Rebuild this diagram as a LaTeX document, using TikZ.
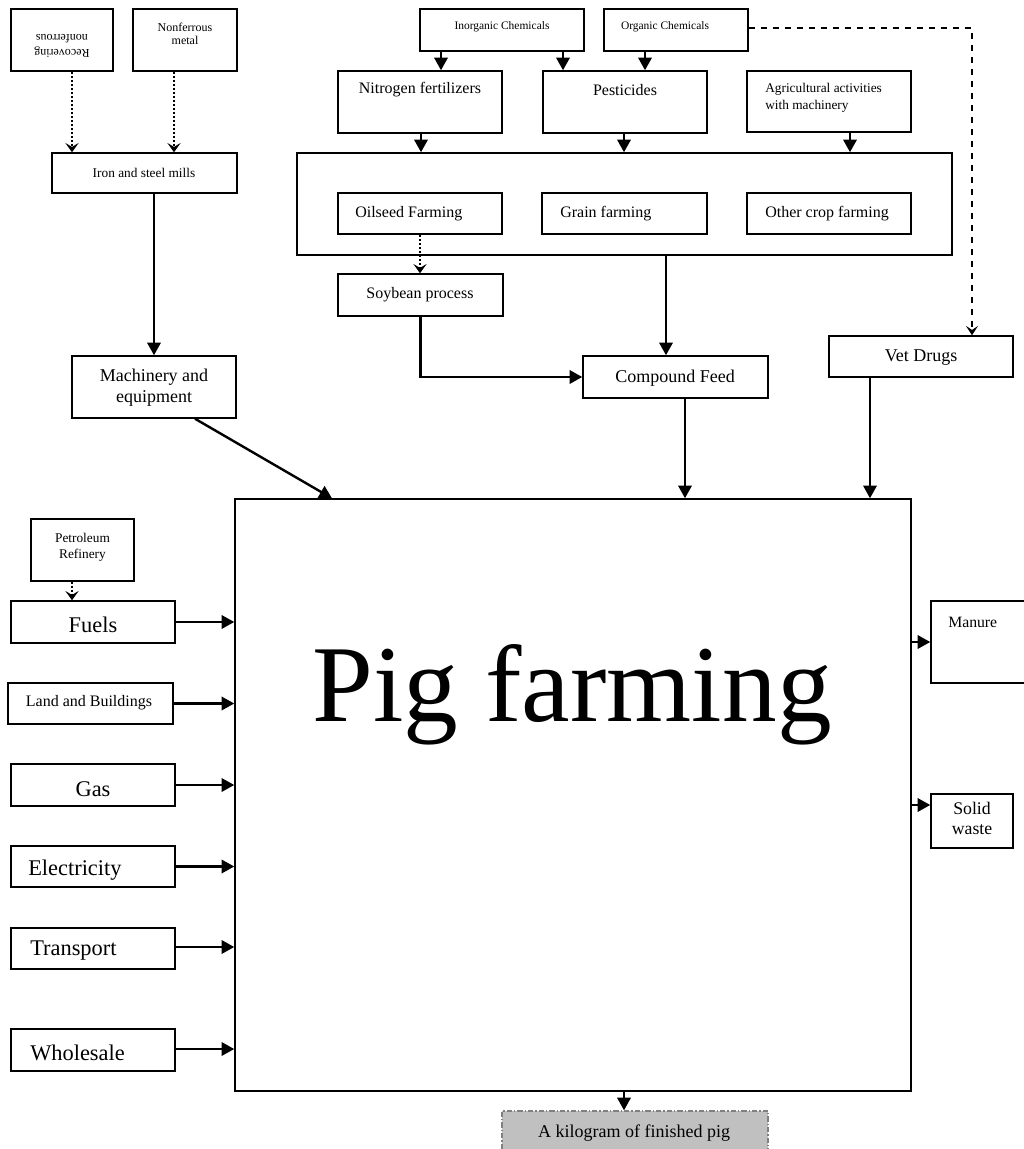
\documentclass[tikz,border=0pt]{standalone}
\usepackage{fontspec}
\setmainfont{Liberation Serif}
\usetikzlibrary{arrows.meta,fit}
\definecolor{outfill}{RGB}{192,192,192}
\definecolor{outline}{RGB}{128,128,128}
\newcommand\fs[2]{\fontsize{#1}{#2}\selectfont}
\begin{document}
\begin{tikzpicture}[x=0.75pt,y=-0.75pt,
  box/.style={draw, line width=1.1pt, inner sep=0pt, fit={#1}},
  txt/.style={inner sep=0pt, align=center},
  ltxt/.style={inner sep=0pt, anchor=west, align=left},
  flow/.style={line width=1.8pt, -{Triangle[length=9.5pt,width=10pt]}},
  dotflow/.style={line width=1.4pt, dash pattern=on 1.4pt off 1.6pt,
    -{Stealth[length=7pt,width=10pt,inset=3pt]}},
  dashflow/.style={line width=1.5pt, dash pattern=on 5pt off 4pt,
    -{Stealth[length=7pt,width=9pt,inset=3pt]}}]
\useasboundingbox (0,0) rectangle (1024,1149);
\clip (0,0) rectangle (1024,1149);

% metal supply chain
\node[box={(11,9)(113,71)}] (recov) {};
\node[txt, rotate=180, font=\fs{9}{11}] (recovt) at (62,46) {Recovering\\nonferrous};
\node[box={(133,9)(237,71)}] (nonfer) {};
\node[txt, font=\fs{9}{10}] (nonfert) at (185,34) {Nonferrous\\metal};
\node[box={(52,153)(237,193)}] (iron) {};
\node[txt, font=\fs{10}{12}] (iront) at (144,173) {Iron and steel mills};
\node[box={(72,356)(236,418)}] (mach) {};
\node[txt, font=\fs{13.5}{15.8}] (macht) at (154,388) {Machinery and\\equipment};

% chemicals and agricultural inputs
\node[box={(420,9)(584,51)}] (inorg) {};
\node[txt, font=\fs{8.6}{10}] (inorgt) at (502,27) {Inorganic Chemicals};
\node[box={(604,9)(748,51)}] (org) {};
\node[txt, font=\fs{8.6}{10}] (orgt) at (665,27) {Organic Chemicals};
\node[box={(338,71)(502,133)}] (nitro) {};
\node[txt, font=\fs{12}{14}] (nitrot) at (420,90) {Nitrogen fertilizers};
\node[box={(543,71)(707,133)}] (pest) {};
\node[txt, font=\fs{12}{14}] (pestt) at (625,90) {Pesticides};
\node[box={(747,71)(911,132)}] (agri) {};
\node[ltxt, font=\fs{10}{12.5}] (agrit) at (765,98) {Agricultural activities\\with machinery};

% crop farming group
\node[box={(297,153)(952,255)}] (crops) {};
\node[box={(338,193)(502,234)}] (oil) {};
\node[ltxt, font=\fs{12}{14}] (oilt) at (355,214) {Oilseed Farming};
\node[box={(542,193)(707,234)}] (grain) {};
\node[ltxt, font=\fs{12}{14}] (graint) at (560,214) {Grain farming};
\node[box={(747,193)(911,234)}] (other) {};
\node[ltxt, font=\fs{12}{14}] (othert) at (765,214) {Other crop farming};

\node[box={(338,274)(503,316)}] (soy) {};
\node[txt, font=\fs{12}{14}] (soyt) at (420,295) {Soybean process};
\node[box={(583,356)(768,398)}] (feed) {};
\node[txt, font=\fs{13.5}{16}] (feedt) at (675,378) {Compound Feed};
\node[box={(829,336)(1013,377)}] (vet) {};
\node[txt, font=\fs{13.5}{16}] (vett) at (921,358) {Vet Drugs};

% central process
\node[box={(235,499)(911,1091)}] (pig) {};
\node[txt, font=\fs{82}{90}] (pigt) at (572,695) {Pig farming};

% energy and services
\node[box={(31,519)(134,581)}] (petro) {};
\node[txt, font=\fs{10}{12}] (petrot) at (82.5,547) {Petroleum\\Refinery};
\node[box={(11,601)(175,643)}] (fuels) {};
\node[txt, font=\fs{16.8}{19}] (fuelst) at (93,625) {Fuels};
\node[box={(8,683)(173,724)}] (land) {};
\node[txt, font=\fs{12}{14}] (landt) at (89,703) {Land and Buildings};
\node[box={(11,764)(175,806)}] (gas) {};
\node[txt, font=\fs{16.8}{19}] (gast) at (93,789) {Gas};
\node[box={(11,846)(175,887)}] (elec) {};
\node[ltxt, font=\fs{16.8}{19}] (elect) at (28,870) {Electricity};
\node[box={(11,928)(175,969)}] (trans) {};
\node[ltxt, font=\fs{16.8}{19}] (transt) at (30,951) {Transport};
\node[box={(11,1029)(175,1071)}] (whole) {};
\node[ltxt, font=\fs{16.8}{19}] (wholet) at (30,1053) {Wholesale};

% outputs
\node[box={(931,601)(1040,683)}] (manure) {};
\node[ltxt, font=\fs{11.8}{14}] (manuret) at (948,622) {Manure};
\node[box={(931,794)(1013,848)}] (solid) {};
\node[txt, font=\fs{13.3}{15}] (solidt) at (972,818) {Solid\\waste};
\node[draw=outline, fill=outfill, line width=1pt, dash pattern=on 4pt off 1.5pt on 1pt off 1.5pt,
      inner sep=0pt, fit={(502,1111)(768,1165)}] (kg) {};
\node[txt, font=\fs{13.5}{16}] (kgt) at (634,1133) {A kilogram of finished pig};

% connectors: metals
\draw[dotflow] (72,0 |- recov.south) -- (72,0 |- iron.north);
\draw[dotflow] (174,0 |- nonfer.south) -- (174,0 |- iron.north);
\draw[flow] (154,0 |- iron.south) -- (154,0 |- mach.north);
\draw[flow] (195,0 |- mach.south) -- (332,0 |- pig.north);

% connectors: chemicals and crops
\draw[flow] (441,0 |- inorg.south) -- (441,0 |- nitro.north);
\draw[flow] (563,0 |- inorg.south) -- (563,0 |- pest.north);
\draw[flow] (645,0 |- org.south) -- (645,0 |- pest.north);
\draw[dashflow] (org.east |- 0,28) -| (972,0 |- vet.north);
\draw[flow] (421,0 |- nitro.south) -- (421,0 |- crops.north);
\draw[flow] (624,0 |- pest.south) -- (624,0 |- crops.north);
\draw[flow] (850,0 |- agri.south) -- (850,0 |- crops.north);
\draw[dotflow] (420,0 |- oil.south) -- (420,0 |- soy.north);
\draw[flow] (666,0 |- crops.south) -- (666,0 |- feed.north);
\draw[flow] (soy.south) |- (feed.west);
\draw[flow] (685,0 |- feed.south) -- (685,0 |- pig.north);
\draw[flow] (870,0 |- vet.south) -- (870,0 |- pig.north);

% connectors: energy and services
\draw[dotflow] (72,0 |- petro.south) -- (72,0 |- fuels.north);
\draw[flow] (fuels.east) -- (fuels.east -| pig.west);
\draw[flow] (land.east) -- (land.east -| pig.west);
\draw[flow] (gas.east) -- (gas.east -| pig.west);
\draw[flow] (elec.east) -- (elec.east -| pig.west);
\draw[flow] (trans.east |- 0,947) -- (pig.west |- 0,947);
\draw[flow] (whole.east |- 0,1049) -- (pig.west |- 0,1049);

% connectors: outputs
\draw[flow] (pig.east |- manure.west) -- (manure.west);
\draw[flow] (pig.east |- 0,805) -- (solid.west |- 0,805);
\draw[flow] (624,0 |- pig.south) -- (624,0 |- kg.north);
\end{tikzpicture}
\end{document}
